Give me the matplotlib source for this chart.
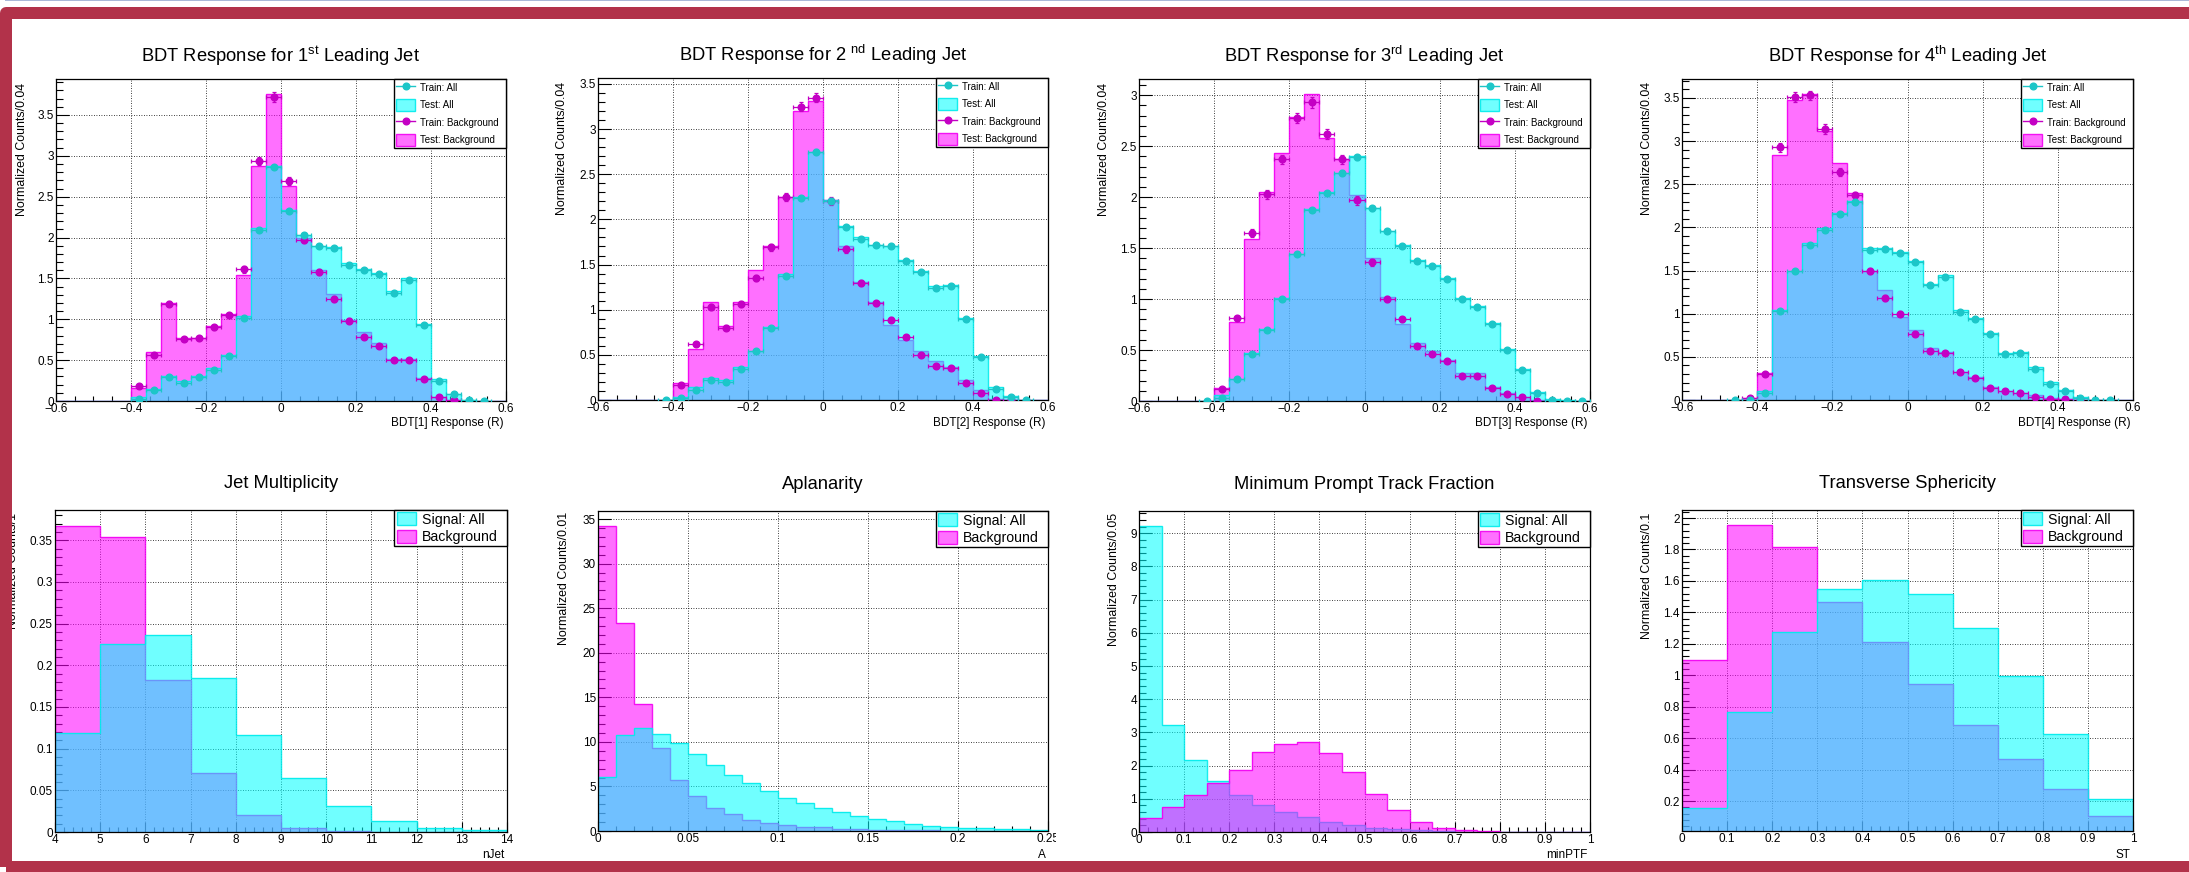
import numpy as np
import matplotlib
matplotlib.use("Agg")
import matplotlib.pyplot as plt
from matplotlib.lines import Line2D
from matplotlib.patches import Patch, Rectangle
from matplotlib.ticker import MultipleLocator, FuncFormatter
from matplotlib.transforms import IdentityTransform, Bbox, TransformedBbox

nan = np.nan

# ---------------------------------------------------------------- data
# BDT response histograms: 30 bins of width 0.04 on [-0.6, 0.6]
bdt_xrange = (-0.6, 0.6)
bdt_nbins = 30

bdt1_test_bkg = [0, 0, 0, 0, 0, 0.16, 0.60, 1.20, 0.77, 0.77, 0.92, 1.06, 1.54, 2.87, 3.76,
                 2.63, 2.00, 1.60, 1.31, 0.99, 0.845, 0.71, 0.51, 0.51, 0.28, 0.045, 0.01, 0, 0, 0]
bdt1_train_bkg = [nan] * 5 + [0.18, 0.56, 1.19, 0.755, 0.77, 0.90, 1.05, 1.61, 2.94, 3.72,
                              2.69, 1.97, 1.58, 1.25, 0.98, 0.78, 0.67, 0.50, 0.50, 0.27, 0.05, 0.015] + [nan] * 3
bdt1_test_all = [0, 0, 0, 0, 0, 0.045, 0.15, 0.31, 0.24, 0.31, 0.40, 0.56, 1.04, 2.12, 2.88,
                 2.34, 2.03, 1.90, 1.88, 1.69, 1.61, 1.57, 1.34, 1.50, 0.94, 0.27, 0.09, 0.01, 0.005, 0]
bdt1_train_all = [nan] * 5 + [0.03, 0.135, 0.29, 0.22, 0.29, 0.38, 0.555, 1.01, 2.09, 2.86,
                              2.33, 2.03, 1.90, 1.87, 1.67, 1.60, 1.56, 1.32, 1.48, 0.93, 0.25, 0.08, 0.01, 0.005] + [nan]

bdt2_test_bkg = [0, 0, 0, 0, 0, 0.185, 0.565, 1.08, 0.82, 1.09, 1.44, 1.71, 2.25, 3.20, 3.31,
                 2.22, 1.70, 1.31, 1.09, 0.83, 0.66, 0.54, 0.43, 0.37, 0.22, 0.11, 0.01, 0, 0, 0]
bdt2_train_bkg = [nan] * 5 + [0.166, 0.617, 1.03, 0.80, 1.06, 1.35, 1.69, 2.25, 3.25, 3.35,
                              2.20, 1.67, 1.30, 1.07, 0.89, 0.70, 0.50, 0.38, 0.355, 0.185, 0.08, 0.0, 0.0] + [nan] * 2
bdt2_test_all = [0, 0, 0, 0, 0.003, 0.035, 0.14, 0.24, 0.22, 0.36, 0.54, 0.81, 1.40, 2.25, 2.75,
                 2.22, 1.93, 1.80, 1.72, 1.71, 1.55, 1.43, 1.26, 1.27, 0.905, 0.49, 0.14, 0.045, 0.005, 0]
bdt2_train_all = [nan] * 4 + [0.0, 0.025, 0.11, 0.22, 0.20, 0.34, 0.54, 0.795, 1.375, 2.24, 2.75,
                              2.20, 1.92, 1.785, 1.715, 1.70, 1.54, 1.415, 1.24, 1.26, 0.895, 0.48, 0.12, 0.03, 0.0] + [nan]

bdt3_test_bkg = [0, 0, 0, 0, 0, 0.125, 0.78, 1.59, 2.05, 2.43, 2.79, 3.01, 2.58, 2.37, 2.02,
                 1.40, 1.025, 0.76, 0.57, 0.495, 0.40, 0.27, 0.27, 0.14, 0.075, 0.04, 0.01, 0, 0, 0]
bdt3_train_bkg = [nan] * 5 + [0.115, 0.81, 1.65, 2.03, 2.37, 2.78, 2.93, 2.62, 2.37, 1.97,
                              1.36, 1.00, 0.80, 0.54, 0.46, 0.39, 0.25, 0.25, 0.125, 0.065, 0.036, 0.0] + [nan] * 3
bdt3_test_all = [0, 0, 0, 0, 0.003, 0.06, 0.22, 0.475, 0.71, 1.01, 1.445, 1.88, 2.05, 2.24, 2.40,
                 1.89, 1.67, 1.53, 1.38, 1.33, 1.205, 1.01, 0.93, 0.77, 0.51, 0.31, 0.09, 0.015, 0.01, 0.002]
bdt3_train_all = [nan] * 4 + [0.0, 0.03, 0.215, 0.46, 0.70, 1.00, 1.44, 1.875, 2.04, 2.24, 2.39,
                              1.89, 1.665, 1.52, 1.37, 1.32, 1.195, 1.00, 0.92, 0.76, 0.50, 0.305, 0.075, 0.01, 0.003, 0.0]

bdt4_test_bkg = [0, 0, 0, 0, 0.02, 0.31, 2.84, 3.48, 3.55, 3.12, 2.75, 2.40, 1.50, 1.28, 0.965,
                 0.81, 0.60, 0.56, 0.33, 0.27, 0.155, 0.11, 0.085, 0.06, 0.02, 0.01, 0, 0, 0, 0]
bdt4_train_bkg = [nan] * 4 + [0.027, 0.30, 2.93, 3.51, 3.53, 3.14, 2.64, 2.37, 1.495, 1.18, 1.00,
                              0.765, 0.57, 0.55, 0.32, 0.25, 0.14, 0.10, 0.077, 0.04, 0.01, 0.01, 0.0] + [nan] * 3
bdt4_test_all = [0, 0, 0, 0, 0.005, 0.10, 1.04, 1.50, 1.815, 1.99, 2.17, 2.31, 1.76, 1.765, 1.72,
                 1.61, 1.35, 1.45, 1.04, 0.945, 0.78, 0.55, 0.56, 0.38, 0.21, 0.12, 0.04, 0.005, 0, 0]
bdt4_train_all = [nan] * 3 + [0.0, 0.003, 0.077, 1.035, 1.49, 1.80, 1.97, 2.16, 2.29, 1.74, 1.75, 1.70,
                              1.60, 1.33, 1.43, 1.02, 0.935, 0.77, 0.53, 0.54, 0.36, 0.19, 0.10, 0.02, 0.0, 0.0] + [nan]

# Input variables
njet_edges = [4, 5, 6, 7, 8, 9, 10, 11, 12, 13, 14]
njet_sig = [0.1185, 0.2258, 0.2366, 0.1846, 0.1165, 0.0645, 0.0316, 0.0132, 0.0052, 0.0024]
njet_bkg = [0.3675, 0.3535, 0.1826, 0.0705, 0.020, 0.0044, 0.001, 0, 0, 0]

aplan_range = (0.0, 0.25)
aplan_sig = [6.04, 10.75, 11.6, 10.86, 9.85, 8.62, 7.43, 6.31, 5.37, 4.51, 3.69, 3.13, 2.57,
             2.16, 1.64, 1.38, 1.08, 0.82, 0.60, 0.49, 0.37, 0.30, 0.22, 0.19, 0.15]
aplan_bkg = [34.25, 23.36, 14.2, 9.33, 5.71, 3.92, 2.57, 1.94, 1.27, 0.90, 0.71, 0.41, 0.41,
             0.26, 0.19, 0.15, 0.11, 0.07, 0.12, 0.05, 0.03, 0.02, 0.01, 0.01, 0.0]

ptf_range = (0.0, 1.0)
ptf_sig = [9.21, 3.23, 2.18, 1.53, 1.125, 0.82, 0.60, 0.44, 0.30, 0.22, 0.12, 0.09, 0.06,
           0.02, 0.01, 0, 0, 0, 0, 0]
ptf_bkg = [0.42, 0.75, 1.10, 1.48, 1.88, 2.41, 2.66, 2.72, 2.38, 1.81, 1.155, 0.65, 0.30,
           0.13, 0.07, 0.03, 0.01, 0, 0, 0]

st_range = (0.0, 1.0)
st_sig = [0.157, 0.767, 1.278, 1.549, 1.606, 1.517, 1.303, 0.998, 0.627, 0.216]
st_bkg = [1.097, 1.953, 1.814, 1.466, 1.212, 0.945, 0.682, 0.470, 0.278, 0.104]

# ---------------------------------------------------------------- style
W, H, DPI = 2189, 872, 100
plt.rcParams["font.family"] = ["Liberation Sans", "DejaVu Sans"]
plt.rcParams["mathtext.fontset"] = "custom"
plt.rcParams["mathtext.rm"] = "Liberation Sans"
plt.rcParams["mathtext.it"] = "Liberation Sans:italic"
plt.rcParams["mathtext.bf"] = "Liberation Sans:bold"

CYAN_FILL = (0.0, 1.0, 1.0, 0.56)
CYAN_EDGE = (0.0, 0.92, 0.92, 0.9)
MAG_FILL = (1.0, 0.0, 1.0, 0.56)
MAG_EDGE = (0.95, 0.0, 0.95, 0.9)
CYAN_PT = "#1cc6c8"
MAG_PT = "#c400c4"
FRAME_RED = "#b2324a"

# statistical error scale for the normalised training histograms
ERR_K_BKG = 0.03
ERR_K_SIG = 0.015

fig = plt.figure(figsize=(W / DPI, H / DPI), dpi=DPI)
fig.patch.set_facecolor("white")


def add_axes_px(l, t, r, b):
    return fig.add_axes([l / W, 1 - b / H, (r - l) / W, (b - t) / H])


def root_fmt(v, pos):
    if abs(v) < 1e-9:
        return "0"
    return ("%g" % round(v, 6)).replace("-", "\u2212")


def style_axes(ax, xmaj, xmin, ymaj, ymin):
    ax.set_axisbelow(True)
    ax.xaxis.set_major_locator(MultipleLocator(xmaj))
    ax.xaxis.set_minor_locator(MultipleLocator(xmin))
    ax.yaxis.set_major_locator(MultipleLocator(ymaj))
    ax.yaxis.set_minor_locator(MultipleLocator(ymin))
    ax.xaxis.set_major_formatter(FuncFormatter(root_fmt))
    ax.yaxis.set_major_formatter(FuncFormatter(root_fmt))
    ax.grid(True, which="major", color="black", linestyle=(0, (1, 2)), linewidth=0.6)
    ax.tick_params(which="both", direction="in", top=False, right=False,
                   labelsize=8.5, color="black", width=0.8)
    ax.tick_params(axis="x", which="major", length=7, pad=1.6)
    ax.tick_params(axis="x", which="minor", length=3.5)
    ax.tick_params(axis="y", which="major", length=9.7, pad=1.5)
    ax.tick_params(axis="y", which="minor", length=4.9)
    for s in ax.spines.values():
        s.set_linewidth(0.9)


def hist(ax, vals, edges, fill, edge, z):
    ax.stairs(vals, edges, fill=True, facecolor=fill, edgecolor="none", linewidth=0, zorder=z)
    ax.stairs(vals, edges, fill=False, edgecolor=edge, linewidth=1.0, zorder=z + 0.1)


def axis_texts(ax, box, title, title_pad, ylabel, ylab_x, ylab_top, xlabel, xlab_y):
    l, t, r, b = box
    ax.set_title(title, fontsize=13.2, pad=title_pad)
    fig.text(ylab_x / W, 1 - ylab_top / H, ylabel, rotation=90, ha="center", va="top", fontsize=8.9)
    fig.text((r - 2.5) / W, 1 - xlab_y / H, xlabel, ha="right", va="center", fontsize=8.5)


# ---------------------------------------------------------------- BDT panels
bdt_panels = [
    dict(box=(56, 79, 506, 401), title=r"BDT Response for 1$^{\mathrm{st}}$ Leading Jet",
         xlabel="BDT[1] Response (R)", ymax=3.94, ylab=(21.7, 83),
         test_all=bdt1_test_all, test_bkg=bdt1_test_bkg, train_all=bdt1_train_all, train_bkg=bdt1_train_bkg),
    dict(box=(598, 78, 1048, 400), title=r"BDT Response for 2 $^{\mathrm{nd}}$ Leading Jet",
         xlabel="BDT[2] Response (R)", ymax=3.566, ylab=(562.3, 82),
         test_all=bdt2_test_all, test_bkg=bdt2_test_bkg, train_all=bdt2_train_all, train_bkg=bdt2_train_bkg),
    dict(box=(1139, 79, 1590, 401), title=r"BDT Response for 3$^{\mathrm{rd}}$ Leading Jet",
         xlabel="BDT[3] Response (R)", ymax=3.16, ylab=(1104.3, 83),
         test_all=bdt3_test_all, test_bkg=bdt3_test_bkg, train_all=bdt3_train_all, train_bkg=bdt3_train_bkg),
    dict(box=(1682, 79, 2133, 400), title=r"BDT Response for 4$^{\mathrm{th}}$ Leading Jet",
         xlabel="BDT[4] Response (R)", ymax=3.72, ylab=(1647.3, 82),
         test_all=bdt4_test_all, test_bkg=bdt4_test_bkg, train_all=bdt4_train_all, train_bkg=bdt4_train_bkg),
]

bdt_edges = np.linspace(bdt_xrange[0], bdt_xrange[1], bdt_nbins + 1)
bdt_centers = 0.5 * (bdt_edges[:-1] + bdt_edges[1:])
bdt_halfw = 0.5 * (bdt_edges[1] - bdt_edges[0])

for p in bdt_panels:
    ax = add_axes_px(*p["box"])
    style_axes(ax, 0.2, 0.05, 0.5, 0.1)
    ax.set_xlim(*bdt_xrange)
    ax.set_ylim(0, p["ymax"])
    hist(ax, p["test_bkg"], bdt_edges, MAG_FILL, MAG_EDGE, 1.0)
    hist(ax, p["test_all"], bdt_edges, CYAN_FILL, CYAN_EDGE, 1.2)
    for key, col, k in (("train_bkg", MAG_PT, ERR_K_BKG), ("train_all", CYAN_PT, ERR_K_SIG)):
        y = np.asarray(p[key], dtype=float)
        ax.errorbar(bdt_centers, y, xerr=bdt_halfw, yerr=k * np.sqrt(np.nan_to_num(y)),
                    fmt="o", ms=4.8, color=col, ecolor=col, elinewidth=0.9,
                    capsize=1.4, capthick=0.9, zorder=4)
    handles = [Line2D([], [], color=CYAN_PT, marker="o", ms=4.8, lw=1.0),
               Patch(facecolor=CYAN_FILL, edgecolor=CYAN_EDGE, linewidth=1.0),
               Line2D([], [], color=MAG_PT, marker="o", ms=4.8, lw=1.0),
               Patch(facecolor=MAG_FILL, edgecolor=MAG_EDGE, linewidth=1.0)]
    labels = ["Train: All", "Test: All", "Train: Background", "Test: Background"]
    leg = ax.legend(handles, labels, loc="upper right", bbox_to_anchor=(0.751, 0, 0.249, 1.0),
                    mode="expand", borderaxespad=0, fontsize=7, frameon=True, fancybox=False,
                    edgecolor="black", framealpha=1, borderpad=0.25, labelspacing=0.55,
                    handlelength=1.95, handleheight=1.54, handletextpad=0.5, numpoints=1)
    leg.get_frame().set_linewidth(1.0)
    axis_texts(ax, p["box"], p["title"], 12.5, "Normalized Counts/0.04",
               p["ylab"][0], p["ylab"][1], p["xlabel"], 423)

# ---------------------------------------------------------------- input variable panels
var_panels = [
    dict(box=(55, 510, 507, 832), title="Jet Multiplicity", xlabel="nJet",
         ylabel="Normalized Counts/1", ylab=(13.5, 513),
         edges=np.asarray(njet_edges, dtype=float), sig=njet_sig, bkg=njet_bkg,
         ylim=(0, 0.3863), ticks=(1, 0.2, 0.05, 0.01), bkg_on_top=False),
    dict(box=(598, 511, 1048, 831), title="Aplanarity", xlabel="A",
         ylabel="Normalized Counts/0.01", ylab=(564.3, 511.7),
         edges=np.linspace(aplan_range[0], aplan_range[1], len(aplan_sig) + 1), sig=aplan_sig, bkg=aplan_bkg,
         ylim=(0, 35.9), ticks=(0.05, 0.01, 5, 1), bkg_on_top=False),
    dict(box=(1139, 511, 1590, 832), title="Minimum Prompt Track Fraction", xlabel="minPTF",
         ylabel="Normalized Counts/0.05", ylab=(1114, 513.3),
         edges=np.linspace(ptf_range[0], ptf_range[1], len(ptf_sig) + 1), sig=ptf_sig, bkg=ptf_bkg,
         ylim=(0, 9.67), ticks=(0.1, 0.02, 1, 0.2), bkg_on_top=True),
    dict(box=(1682, 510, 2133, 831), title="Transverse Sphericity", xlabel="ST",
         ylabel="Normalized Counts/0.1", ylab=(1646.7, 513),
         edges=np.linspace(st_range[0], st_range[1], len(st_sig) + 1), sig=st_sig, bkg=st_bkg,
         ylim=(0.0105, 2.051), ticks=(0.1, 0.02, 0.2, 0.04), bkg_on_top=False),
]

var_axes = []
for p in var_panels:
    ax = add_axes_px(*p["box"])
    var_axes.append(ax)
    style_axes(ax, *p["ticks"])
    ax.set_xlim(p["edges"][0], p["edges"][-1])
    ax.set_ylim(*p["ylim"])
    if p["bkg_on_top"]:
        hist(ax, p["sig"], p["edges"], CYAN_FILL, CYAN_EDGE, 1.0)
        hist(ax, p["bkg"], p["edges"], MAG_FILL, MAG_EDGE, 1.2)
    else:
        hist(ax, p["bkg"], p["edges"], MAG_FILL, MAG_EDGE, 1.0)
        hist(ax, p["sig"], p["edges"], CYAN_FILL, CYAN_EDGE, 1.2)
    handles = [Patch(facecolor=CYAN_FILL, edgecolor=CYAN_EDGE, linewidth=1.0),
               Patch(facecolor=MAG_FILL, edgecolor=MAG_EDGE, linewidth=1.0)]
    leg = ax.legend(handles, ["Signal: All", "Background"], loc="upper right",
                    bbox_to_anchor=(0.751, 0, 0.249, 1.0), mode="expand", borderaxespad=0,
                    fontsize=10.2, frameon=True, fancybox=False, edgecolor="black", framealpha=1,
                    borderpad=0.16, labelspacing=0.2, handlelength=1.34, handleheight=1.06,
                    handletextpad=0.42)
    leg.get_frame().set_linewidth(1.0)
    axis_texts(ax, p["box"], p["title"], 15.8, p["ylabel"], p["ylab"][0], p["ylab"][1],
               p["xlabel"], 855)

# ---------------------------------------------------------------- page frame
fig.add_artist(Rectangle((5, H - 1.3), W, 1.3, transform=IdentityTransform(),
                         facecolor="#a9b8d8", edgecolor="none", zorder=10))
fig.add_artist(Rectangle((6, H - 866.5), W + 40, 866.5 - 13, transform=IdentityTransform(),
                         fill=False, edgecolor=FRAME_RED, linewidth=12 * 72 / DPI,
                         joinstyle="round", zorder=11))

# the aplanarity tick labels are cut at the edge of their pad
fig.canvas.draw()
clip = TransformedBbox(Bbox.from_extents(545 / W, 0, 1056 / W, 1), fig.transFigure)
for lbl in var_axes[1].get_xticklabels():
    lbl.set_clip_on(True)
    lbl.set_clip_box(clip)

fig.savefig("out.png", dpi=DPI, facecolor="white")
